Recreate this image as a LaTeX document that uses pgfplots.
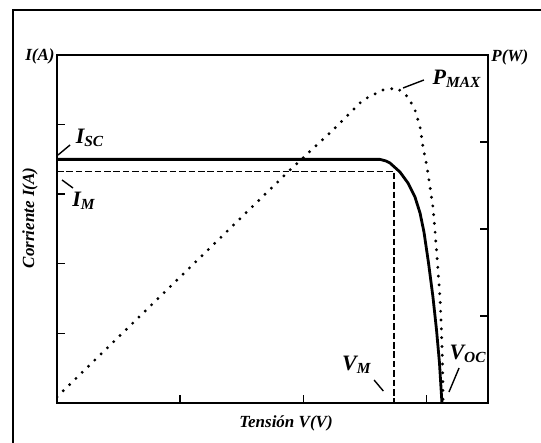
\documentclass[border=0pt]{standalone}
\usepackage{fontspec}
\setmainfont{Liberation Serif}
\usepackage{pgfplots}
\pgfplotsset{compat=1.18}

% 1 px of the reference = 0.5pt; axis box is 431 x 348 px
\tikzset{lbl/.style={font=\bfseries\itshape\fontsize{11}{12}\selectfont, inner sep=0pt},
         ttl/.style={font=\bfseries\itshape\fontsize{8.5}{10}\selectfont, inner sep=0pt}}

\begin{document}
\begin{tikzpicture}
\pgfplotsset{common/.style={
  scale only axis, width=215.5pt, height=174pt,
  at={(0,0)}, anchor=south west,
  xmin=0, xmax=3.5,
  tick align=inside, major tick length=4pt,
  every tick/.style={black, line width=0.7pt},
  axis line style={line width=1pt},
}}
\begin{axis}[common, name=ax,
  ymin=0, ymax=5,
  tick pos=left,
  xtick={1,2,3}, ytick={1,2,3,4},
  xticklabels={}, yticklabels={},
]
% current curve I(V)
\addplot[black, line width=1.4pt, line join=round] coordinates {
  (0,3.50) (2.623,3.50) (2.672,3.477) (2.704,3.448) (2.785,3.319)
  (2.850,3.161) (2.907,2.960) (2.948,2.730) (2.980,2.457)
  (3.017,2.012) (3.053,1.523) (3.082,1.049) (3.106,0.575) (3.126,0)};
% maximum power point guides
\addplot[black, line width=0.8pt, dash pattern=on 3.3pt off 1.4pt] coordinates {
  (0,3.326) (2.737,3.326) (2.737,0)};

\draw[line width=0.7pt] (axis cs:0.008,3.563) -- (axis cs:0.106,3.707);
\node[lbl] at (axis cs:0.268,3.808) {I\textsubscript{SC}};
\draw[line width=0.7pt] (axis cs:0.041,3.204) -- (axis cs:0.130,3.089);
\node[lbl] at (axis cs:0.219,2.902) {I\textsubscript{M}};
\draw[line width=0.7pt] (axis cs:2.575,0.330) -- (axis cs:2.650,0.172);
\node[lbl] at (axis cs:2.435,0.550) {V\textsubscript{M}};
\draw[line width=0.7pt] (axis cs:3.183,0.158) -- (axis cs:3.265,0.503);
\node[lbl] at (axis cs:3.338,0.704) {V\textsubscript{OC}};
\draw[line width=0.7pt] (axis cs:2.810,4.526) -- (axis cs:2.980,4.641);
\node[lbl] at (axis cs:3.248,4.655) {P\textsubscript{MAX}};
\end{axis}

\begin{axis}[common,
  ymin=0, ymax=4,
  hide x axis, axis y line*=right,
  ytick={1,2,3}, yticklabels={},
]
% power curve P(V)
\addplot[black, line width=1.6pt, line cap=round, dash pattern=on 0pt off 4.4pt] coordinates {
  (0,0.07) (1.892,2.678) (2.241,3.138) (2.485,3.483) (2.647,3.598)
  (2.761,3.621) (2.850,3.517) (2.907,3.368) (2.948,3.172) (2.972,2.943)
  (3.005,2.713) (3.029,2.483) (3.053,2.253) (3.074,1.908) (3.094,1.529)
  (3.110,1.218) (3.122,0.839) (3.131,0.460) (3.135,0.02)};
\end{axis}

\node[ttl, rotate=90] at (-13.5pt,92.5pt) {Corriente I(A)};
\node[ttl] at (114.5pt,-10pt) {Tensión V(V)};
\node[ttl, anchor=east] at (-1pt,173.5pt) {I(A)};
\node[ttl, anchor=west] at (217pt,173pt) {P(W)};
\draw[line width=1pt] (-22pt,-40pt) -- (-22pt,196.5pt) -- (280pt,196.5pt);

\pgfresetboundingbox
\useasboundingbox (-28.5pt,-20pt) rectangle (242pt,201.5pt);
\end{tikzpicture}
\end{document}
